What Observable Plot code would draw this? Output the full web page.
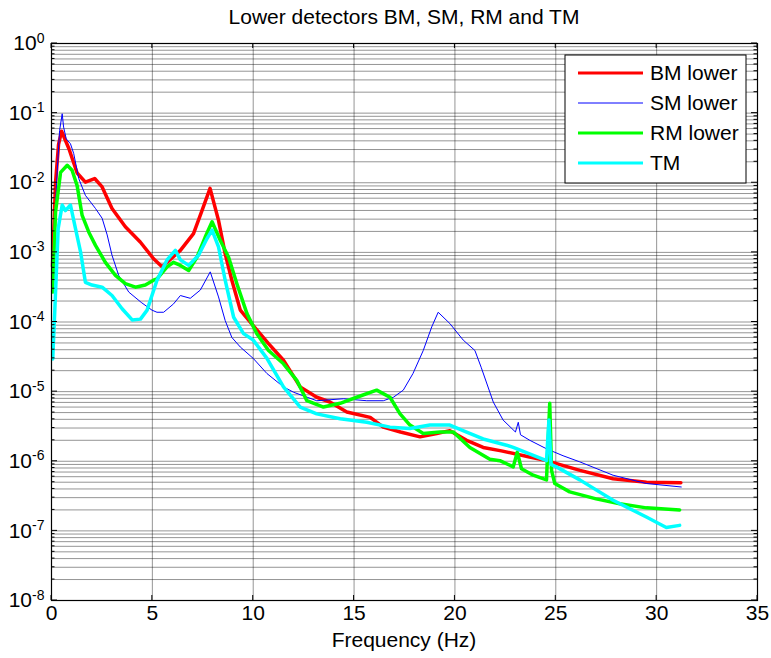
<!DOCTYPE html>
<html><head><meta charset="utf-8">
<script src="https://cdn.jsdelivr.net/npm/d3@7"></script>
<script src="https://cdn.jsdelivr.net/npm/@observablehq/plot@0.6"></script>
<style>
body{margin:0;background:#fff;}
svg{font-family:"Liberation Sans",Arial,sans-serif;}
</style>
</head><body><div id="chart"></div>
<script>
const chartTitle = "Lower detectors BM, SM, RM and TM";
const xLabel = "Frequency (Hz)";
const seriesNames = ["BM lower", "SM lower", "RM lower", "TM"];
const seriesColors = ["#ff0000", "#0000ff", "#00ff00", "#00ffff"];
const seriesWidths = [3.5, 1, 3.5, 3.5];
const legendWidths = [3, 1, 3, 3];

const bmFreq = [0.05,0.2,0.35,0.5,0.86,1.27,1.68,2.14,2.51,3.0,3.66,4.4,5.06,5.48,6.39,7.04,7.46,7.86,8.28,8.61,8.94,9.36,10.0,10.76,11.5,12.33,13.15,13.8,14.64,15.8,16.45,17.3,18.27,19.1,19.75,20.58,21.4,22.3,23.7,24.54,25.0,26.2,27.84,29.5,31.2];
const bmVal = [6.3e-4,1.0e-2,3.55e-2,5.5e-2,3.1e-2,1.38e-2,1.02e-2,1.15e-2,8.7e-3,4.27e-3,2.34e-3,1.41e-3,8.1e-4,6.2e-4,1.07e-3,1.86e-3,3.98e-3,8.3e-3,2.88e-3,9.5e-4,3.98e-4,1.48e-4,8.9e-5,4.9e-5,2.82e-5,1.17e-5,8.3e-6,7.1e-6,5.1e-6,4.27e-6,3.09e-6,2.63e-6,2.24e-6,2.51e-6,2.75e-6,2.0e-6,1.58e-6,1.41e-6,1.15e-6,1.02e-6,9.3e-7,7.4e-7,5.6e-7,5.0e-7,4.9e-7];

const smFreq = [0.1,0.25,0.4,0.53,0.6,0.73,0.94,1.1,1.35,1.68,2.18,2.51,2.76,3.0,3.33,3.83,4.45,4.98,5.23,5.56,6.05,6.39,6.88,7.38,7.87,8.28,8.61,8.94,9.36,10.0,10.68,11.5,12.0,13.15,14.47,15.63,16.45,16.95,17.44,17.92,18.43,18.85,19.17,19.75,20.41,20.99,21.3,21.9,22.39,23.0,23.14,23.25,23.71,24.54,25.36,26.19,27.84,29.49,31.22];
const smVal = [1.0e-3,1.0e-2,5.6e-2,9.8e-2,6.3e-2,4.27e-2,3.63e-2,2.63e-2,1.15e-2,6.6e-3,4.27e-3,3.09e-3,1.78e-3,9.1e-4,4.68e-4,2.69e-4,1.91e-4,1.48e-4,1.38e-4,1.38e-4,1.82e-4,2.4e-4,2.19e-4,2.88e-4,5.25e-4,2.29e-4,1.05e-4,6.0e-5,4.37e-5,3.0e-5,1.82e-5,1.17e-5,9.8e-6,7.4e-6,7.9e-6,7.4e-6,7.4e-6,8.3e-6,1.05e-5,1.82e-5,3.9e-5,8.5e-5,1.38e-4,9.5e-5,5.5e-5,3.9e-5,2.24e-5,7.1e-6,3.9e-6,2.63e-6,3.63e-6,2.4e-6,2.0e-6,1.51e-6,1.2e-6,9.8e-7,6.3e-7,4.79e-7,4.27e-7];

const rmFreq = [0.06,0.2,0.45,0.78,1.02,1.27,1.52,1.85,2.18,2.67,3.17,3.66,4.16,4.65,5.06,5.23,5.73,6.05,6.39,6.8,7.21,7.62,7.96,8.37,8.78,9.19,9.69,10.18,10.76,11.5,12.16,12.66,13.48,14.31,15.13,16.12,16.78,17.28,17.77,18.43,19.26,19.92,20.74,21.73,22.23,22.89,23.09,23.3,23.88,24.54,24.7,24.79,24.95,25.69,27.0,28.17,29.49,31.14];
const rmVal = [2.69e-4,3.8e-3,1.41e-2,1.78e-2,1.51e-2,9.1e-3,3.39e-3,1.95e-3,1.26e-3,7.2e-4,4.68e-4,3.55e-4,3.16e-4,3.39e-4,3.98e-4,4.17e-4,6.2e-4,7.2e-4,6.5e-4,5.5e-4,8.5e-4,1.66e-3,2.75e-3,1.48e-3,8.5e-4,3.55e-4,1.32e-4,6.8e-5,3.9e-5,2.51e-5,1.45e-5,7.4e-6,6.0e-6,6.8e-6,8.3e-6,1.05e-5,8.3e-6,4.79e-6,3.31e-6,2.51e-6,2.63e-6,2.63e-6,1.58e-6,1.07e-6,1.02e-6,8.3e-7,1.35e-6,7.8e-7,6.3e-7,5.4e-7,6.8e-6,7.4e-7,4.79e-7,3.63e-7,2.88e-7,2.45e-7,2.14e-7,2.0e-7];

const tmFreq = [0.06,0.16,0.33,0.53,0.69,0.94,1.19,1.44,1.68,2.01,2.51,3.0,3.5,4.0,4.41,4.74,5.23,5.73,6.14,6.39,6.8,7.29,7.71,7.96,8.28,8.61,9.03,9.52,10.0,10.68,11.5,12.33,13.15,14.31,15.63,16.78,17.77,18.76,19.75,20.58,21.4,22.56,22.89,24.54,24.66,24.76,25.03,26.19,27.84,29.49,30.48,31.14];
const tmVal = [2.95e-5,1.38e-4,2.19e-3,4.79e-3,3.98e-3,4.79e-3,2.19e-3,1.02e-3,3.72e-4,3.39e-4,3.16e-4,2.4e-4,1.55e-4,1.07e-4,1.1e-4,1.48e-4,3.98e-4,7.8e-4,1.07e-3,7.8e-4,6.5e-4,9.1e-4,1.58e-3,2.09e-3,1.2e-3,3.98e-4,1.17e-4,6.8e-5,5.5e-5,3.0e-5,1.17e-5,6.0e-6,4.79e-6,4.07e-6,3.63e-6,3.09e-6,2.95e-6,3.31e-6,3.31e-6,2.63e-6,2.09e-6,1.7e-6,1.58e-6,1.02e-6,3.9e-6,9.0e-7,8.3e-7,5.4e-7,2.75e-7,1.58e-7,1.12e-7,1.2e-7];

const xTicks = [0, 5, 10, 15, 20, 25, 30, 35];
const yTicks = [1e-8, 1e-7, 1e-6, 1e-5, 1e-4, 1e-3, 1e-2, 1e-1, 1];
const yTickLabels = ["10^-8","10^-7","10^-6","10^-5","10^-4","10^-3","10^-2","10^-1","10^0"];
const minorMultipliers = [2, 3, 4, 5, 6, 7, 8, 9];

const freqs = [bmFreq, smFreq, rmFreq, tmFreq];
const vals = [bmVal, smVal, rmVal, tmVal];
const seriesData = freqs.map((fs, k) => fs.map((f, i) => ({f, v: vals[k][i]})));
const minorY = [];
yTicks.slice(0, -1).forEach(d => minorMultipliers.forEach(m => minorY.push(d * m)));
const allGridY = yTicks.concat(minorY);

const FS = 21;
const W = 771, H = 658;
const chart = Plot.plot({
  width: W, height: H,
  marginLeft: 51, marginRight: 14, marginTop: 43, marginBottom: 58,
  style: {fontFamily: '"Liberation Sans", Arial, sans-serif', fontSize: FS + "px", color: "#000", background: "#fff"},
  x: {domain: [0, 35]},
  y: {type: "log", domain: [1e-8, 1]},
  marks: [
    Plot.ruleY(allGridY, {stroke: "#000", strokeOpacity: 0.42, strokeWidth: 1}),
    Plot.ruleX(xTicks.slice(1, -1), {stroke: "#000", strokeOpacity: 0.42, strokeWidth: 1}),
    ...seriesData.map((d, k) => Plot.line(d, {x: "f", y: "v", stroke: seriesColors[k], strokeWidth: seriesWidths[k], strokeLinejoin: "round"})),
    Plot.frame({stroke: "#000", strokeWidth: 1.2}),
    Plot.axisX({ticks: xTicks, tickSize: 0, tickPadding: 5, label: null, fontSize: FS}),
    Plot.axisY({ticks: yTicks, tickSize: 0, tickPadding: 7, label: null, fontSize: FS,
      tickFormat: d => yTickLabels[yTicks.indexOf(d)]})
  ]
});
document.getElementById("chart").appendChild(chart);

const svg = d3.select(chart);
const xs = chart.scale("x"), ys = chart.scale("y");
const x0 = xs.apply(0), x1 = xs.apply(35), yb = ys.apply(1e-8), yt = ys.apply(1);

// superscript exponents
svg.selectAll('g[aria-label="y-axis tick label"] text').each(function() {
  const t = d3.select(this);
  const parts = t.text().split("^");
  t.text(null);
  t.append("tspan").text(parts[0]);
  t.append("tspan").attr("dy", "-0.55em").attr("font-size", "14px").text(parts[1]);
});

// inward ticks
const tg = svg.append("g").attr("stroke", "#000").attr("stroke-width", 1);
xTicks.forEach(v => {
  const px = xs.apply(v);
  tg.append("line").attr("x1", px).attr("x2", px).attr("y1", yb).attr("y2", yb - 5);
  tg.append("line").attr("x1", px).attr("x2", px).attr("y1", yt).attr("y2", yt + 5);
});
yTicks.forEach(v => {
  const py = ys.apply(v);
  tg.append("line").attr("x1", x0).attr("x2", x0 + 6).attr("y1", py).attr("y2", py);
  tg.append("line").attr("x1", x1).attr("x2", x1 - 6).attr("y1", py).attr("y2", py);
});
minorY.forEach(v => {
  const py = ys.apply(v);
  tg.append("line").attr("x1", x0).attr("x2", x0 + 3.5).attr("y1", py).attr("y2", py);
  tg.append("line").attr("x1", x1).attr("x2", x1 - 3.5).attr("y1", py).attr("y2", py);
});

// title and x label
svg.append("text").attr("x", (x0 + x1) / 2).attr("y", 24).attr("text-anchor", "middle")
  .attr("font-size", FS + "px").attr("fill", "#000").text(chartTitle);
svg.append("text").attr("x", (x0 + x1) / 2).attr("y", 647).attr("text-anchor", "middle")
  .attr("font-size", FS + "px").attr("fill", "#000").text(xLabel);

// legend
const lg = svg.append("g").attr("text-anchor", "start");
lg.append("rect").attr("x", 565).attr("y", 55).attr("width", 181).attr("height", 128)
  .attr("fill", "#fff").attr("stroke", "#000").attr("stroke-width", 1);
const rowY = [73, 103, 133, 163];
seriesNames.forEach((name, k) => {
  lg.append("line").attr("x1", 578).attr("x2", 643).attr("y1", rowY[k]).attr("y2", rowY[k])
    .attr("stroke", seriesColors[k]).attr("stroke-width", legendWidths[k]);
  lg.append("text").attr("x", 650).attr("y", rowY[k] + 7).attr("text-anchor", "start")
    .attr("font-size", FS + "px").attr("fill", "#000").text(name);
});
</script>
</body></html>
